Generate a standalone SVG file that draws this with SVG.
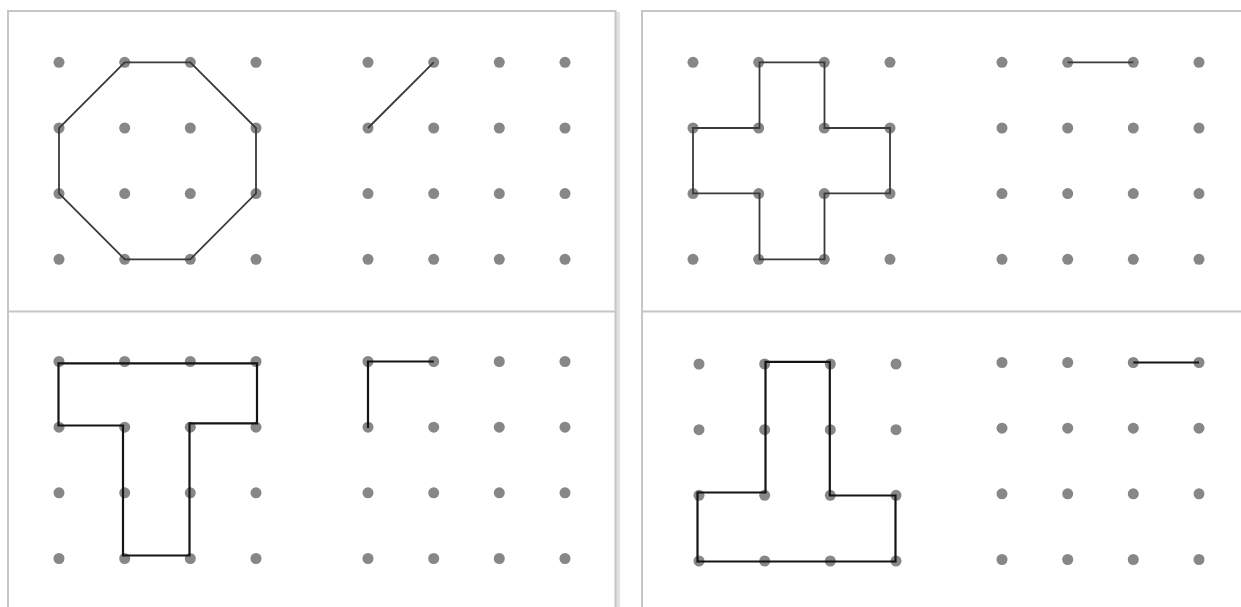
<svg xmlns="http://www.w3.org/2000/svg" width="1241" height="607" viewBox="0 0 1241 607">
<style>
.frame{fill:none;stroke:#c6c6c6;stroke-width:2}
.dot{fill:#878787}
.shape{fill:none;stroke:#3a3a3a;stroke-width:1.8;stroke-linejoin:miter}
.shapeb{fill:none;stroke:#141414;stroke-width:2.2;stroke-linejoin:miter}
</style>
<defs>
<g id="grid">
<circle class="dot" cx="0" cy="0" r="5.5"/><circle class="dot" cx="65.7" cy="0" r="5.5"/><circle class="dot" cx="131.3" cy="0" r="5.5"/><circle class="dot" cx="197" cy="0" r="5.5"/>
<circle class="dot" cx="0" cy="65.7" r="5.5"/><circle class="dot" cx="65.7" cy="65.7" r="5.5"/><circle class="dot" cx="131.3" cy="65.7" r="5.5"/><circle class="dot" cx="197" cy="65.7" r="5.5"/>
<circle class="dot" cx="0" cy="131.3" r="5.5"/><circle class="dot" cx="65.7" cy="131.3" r="5.5"/><circle class="dot" cx="131.3" cy="131.3" r="5.5"/><circle class="dot" cx="197" cy="131.3" r="5.5"/>
<circle class="dot" cx="0" cy="197" r="5.5"/><circle class="dot" cx="65.7" cy="197" r="5.5"/><circle class="dot" cx="131.3" cy="197" r="5.5"/><circle class="dot" cx="197" cy="197" r="5.5"/>
</g>
</defs>
<rect width="1241" height="607" fill="#ffffff"/>
<g id="frames">
<line x1="618" y1="12" x2="618" y2="607" stroke="#e2e2e2" stroke-width="4"/>
<path class="frame" d="M8,607 V11 H615.5 V607"/>
<line class="frame" x1="8" y1="311.5" x2="615.5" y2="311.5"/>
<path class="frame" d="M642,607 V11 H1242"/>
<line class="frame" x1="642" y1="311.5" x2="1241" y2="311.5"/>
</g>
<g id="panel-octagon">
<use href="#grid" x="59" y="62.3"/>
<use href="#grid" x="368" y="62.3"/>
</g>
<g id="panel-cross">
<use href="#grid" x="693" y="62.3"/>
<use href="#grid" x="1002" y="62.3"/>
</g>
<g id="panel-t">
<use href="#grid" x="59" y="361.5"/>
<use href="#grid" x="368" y="361.5"/>
</g>
<g id="panel-invt">
<use href="#grid" x="699" y="364"/>
<use href="#grid" x="1002" y="362.5"/>
</g>
<g id="connectors">
<path class="shape" d="M124.7,62.3 H190.3 L256,128 V193.3 L190.3,259.3 H124.7 L59,193.3 V128 Z"/>
<line class="shape" x1="368" y1="128" x2="433.7" y2="62.3"/>
<path class="shape" d="M759.5,62.3 H824.5 V128 H890 V193.3 H824.5 V259.3 H759.5 V193.3 H693 V128 H759.5 Z"/>
<line class="shape" x1="1067.7" y1="62.3" x2="1133.3" y2="62.3"/>
<path class="shapeb" d="M58.5,363.3 H257 V423.3 H189.5 V555.5 H123 V425.5 H58.5 Z"/>
<path class="shapeb" d="M433.7,361.5 H368 V428"/>
<path class="shapeb" d="M765.5,361.8 H829.8 V495.5 H895.5 V561.5 H697.5 V492.5 H765.5 Z"/>
<line class="shapeb" x1="1133.3" y1="362.5" x2="1199" y2="362.5"/>
</g>
</svg>
